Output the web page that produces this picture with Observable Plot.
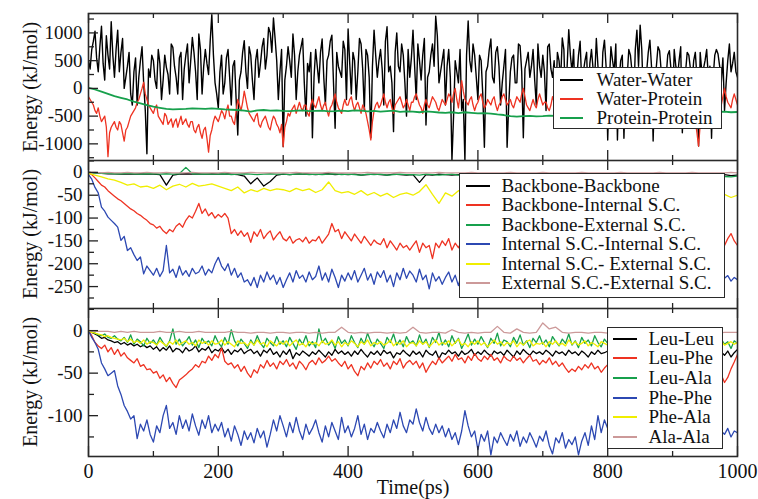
<!DOCTYPE html>
<html><head><meta charset="utf-8">
<script src="https://cdn.jsdelivr.net/npm/d3@7"></script>
<script src="https://cdn.jsdelivr.net/npm/@observablehq/plot@0.6"></script>
<style>
body{margin:0;background:#fff;}
#wrap{position:relative;width:758px;height:499px;overflow:hidden;background:#fff;}
#wrap svg{display:block;}
.legend{position:absolute;box-sizing:border-box;background:#fff;border:1.5px solid #2a2a2a;font-family:"Liberation Serif","Times New Roman",serif;font-size:19px;color:#111;}
.legend .sw{position:absolute;height:2px;}
.legend .tx{position:absolute;white-space:nowrap;}
.ytitle{position:absolute;white-space:nowrap;font-family:"Liberation Serif","Times New Roman",serif;font-size:20px;color:#111;transform:translate(-50%,-50%) rotate(-90deg);}
</style>
</head><body>
<div id="wrap"></div>
<script>
// ---------- time sampling ----------
const step5 = 5;
const step10 = 10;

// ---------- Panel 1 (kJ/mol) ----------
const panel1Names = ["Water-Water", "Water-Protein", "Protein-Protein"];
// Water-Water read at t = 0, 5, 10, ...
const waterWater = [
 500, 700, 1030, 300, 1120, 150, 600, 1200, 200, 1050,
 650, 0, 400, -100, 300, -300, 500, 100, -1180, 200,
 500, 0, 450, 150, 380, -100, 740, 200, 550, -200,
 600, 100, 920, 300, 980, -100, 700, 250, 1330, 100,
 -350, 600, 100, 700, -300, 500, -840, 300, 860, 0,
 600, -200, 700, 450, 900, 600, 1000, 1270, 500, 300,
 -1050, 400, 500, 980, -200, 600, 900, -500, 300, -890,
 700, 100, 890, -300, 600, 960, -720, 400, 200, 700,
 1070, -100, 500, 300, 800, -400, 600, -890, 1050, 200,
 700, -300, 1110, 400, -780, 1000, 300, 600, -500, 200,
 1050, -200, 500, 600, -660, 300, 800, 1300, 100, 500,
 -300, 700, -1300, 500, 100, -400, -1300, 1214, 300, 600,
 -200, 500, -1060, 400, 890, 100, 750, -300, 400, -1060,
 300, 600, 100, 770, -890, 500, 200, 700, -300, 400,
 600, -400, 800, 200, -200, 500, 910, -300, 1060, 300,
 -400, 600, 100, 500, -300, 700, 200, 400, -200, 870,
 -930, 750, 300, -930, 500, -900, 200, 600, -300, 1050,
 1140, -200, 300, 870, -950, 400, 680, -600, 200, 680,
 -300, 400, 500, -800, 300, 600, 100, 650, -1040, 300,
 500, 200, -900, 600, 620, 100, -400, 500, 300, 650,
 200];
// Water-Water read at t = 2.5, 7.5, 12.5, ...
const waterWaterHalf = [
 350, 850, 550, 750, 450, 950, 350, 600, 700, 300,
 900, 200, 650, -300, 550, 200, 750, -400, 350, 600,
 150, 700, -200, 600, 250, 800, 400, -100, 650, 350,
 800, 500, 650, -200, 700, 400, 450, 850, 600, -100,
 300, -100, 550, 200, 400, -200, 150, 650, 300, 750,
 150, 500, 200, 750, 350, 1100, 650, 900, -200, 700,
 150, 750, 200, 600, 300, 750, 100, 450, 650, 200,
 400, 650, 200, 500, 850, 100, 650, 300, 850, -200,
 450, 650, -200, 900, 350, 700, 200, 400, 600, 500,
 350, 850, 300, 100, 650, 400, 800, 100, 700, 550,
 400, 800, 150, 900, 200, 600, 400, 950, 300, 700,
 400, 200, -500, 300, 700, -200, 600, 500, 800, 200,
 600, -100, 300, 700, 200, 650, 400, 100, 700, -300,
 550, 100, 800, 300, 350, 650, 400, 150, 800, 200,
 300, 750, 350, 500, 650, 150, 700, 400, 600, 700,
 200, 850, 300, 650, 450, 350, 900, 100, 650, 400,
 100, 500, 800, 150, 600, 100, 700, 300, 700, 400,
 700, 300, 650, 400, 100, 750, 300, 200, 600, 350,
 700, 200, 750, 100, 650, 350, 500, 200, 650, 350,
 700, 400, 200, 700, 400, 550, 100, 800, 450, 300];
// Water-Protein read at t = 0, 5, 10, ...
const waterProtein = [
 -150, -250, -400, -350, -600, -500, -1230, -700, -600, -750,
 -650, -950, -700, -500, -400, -250, -100, 110, -200, -350,
 -450, -300, -550, -650, -500, -600, -700, -550, -600, -650,
 -550, -700, -600, -800, -650, -900, -700, -1150, -750, -500,
 -600, -400, -550, -300, -500, -650, -200, -400, -50, -350,
 -500, -600, -450, -700, -550, -600, -750, -500, -650, -800,
 -1050, -600, -500, -350, -450, -250, -400, -300, -500, -200,
 -350, -150, -400, -250, -500, -300, -100, -350, -450, -200,
 -300, -150, -400, -250, -450, -350, -600, -930, -400, -250,
 -300, -100, -350, -200, -450, -250, -150, -350, -200, -400,
 -250, -100, -300, -450, -200, -350, -150, -250, -400, -200,
 -300, -100, -250, 0, -350, 140, -200, -300, -150, -400,
 -250, -100, -350, -200, -300, -150, -400, -250, -100, -300,
 -200, -350, -150, -250, 0, -300, -400, -200, -350, -100,
 -300, -250, -400, -150, -350, -200, -300, -450, -250, -350,
 -200, -300, -400, -250, -350, -150, -300, -400, -250, -300,
 -350, -250, -400, -200, -300, -450, -250, -350, -200, -300,
 -400, -250, -350, -150, -300, -400, -250, -350, -300, -200,
 -350, -250, -400, -300, -450, -250, -350, -600, -1040, -300,
 -250, -400, -200, -350, -100, -300, 0, -250, -350, -100,
 -300];
// Water-Protein read at t = 2.5, 7.5, 12.5, ...
const waterProteinHalf = [
 -200, -300, -450, -500, -550, -700, -800, -650, -700, -600,
 -800, -750, -600, -450, -350, -200, 0, -100, -300, -400,
 -350, -500, -600, -450, -650, -550, -600, -700, -500, -600,
 -650, -600, -750, -700, -800, -750, -900, -850, -600, -550,
 -500, -450, -400, -500, -600, -400, -300, -250, -200, -450,
 -550, -500, -650, -600, -500, -700, -600, -550, -700, -650,
 -700, -450, -400, -300, -350, -350, -300, -450, -300, -300,
 -250, -300, -300, -400, -350, -200, -250, -400, -300, -300,
 -200, -300, -300, -350, -300, -450, -750, -600, -300, -350,
 -200, -250, -250, -350, -300, -200, -250, -300, -300, -250,
 -150, -200, -350, -300, -300, -250, -200, -350, -300, -250,
 -200, -150, -100, -200, -100, -50, -250, -200, -300, -300,
 -150, -250, -300, -250, -200, -300, -300, -150, -200, -250,
 -300, -250, -200, -100, -150, -350, -300, -300, -200, -200,
 -250, -350, -300, -250, -300, -250, -400, -350, -300, -250,
 -250, -350, -300, -300, -250, -250, -350, -300, -250, -350,
 -300, -350, -300, -250, -400, -300, -300, -250, -250, -350,
 -300, -300, -250, -250, -350, -300, -300, -350, -250, -250,
 -300, -350, -350, -400, -350, -300, -450, -800, -650, -250,
 -300, -300, -250, -200, -200, -150, -150, -300, -200, -200];
const proteinProtein = [
 10, -20, -60, -100, -140, -170, -200, -240, -270, -300,
 -330, -350, -370, -380, -375, -370, -360, -365, -370, -360,
 -370, -380, -385, -390, -400, -420, -395, -390, -400, -395,
 -405, -410, -400, -395, -410, -405, -400, -415, -410, -400,
 -410, -395, -400, -415, -405, -420, -410, -400, -425, -415,
 -420, -430, -415, -425, -435, -440, -430, -445, -430, -440,
 -450, -445, -455, -470, -480, -500, -510, -500, -495, -505,
 -500, -490, -495, -480, -470, -460, -455, -465, -450, -445,
 -440, -450, -445, -435, -440, -430, -445, -440, -435, -430,
 -435, -440, -430, -425, -430, -435, -430, -425, -420, -430,
 -425];

// ---------- Panel 2 ----------
const panel2Names = ["Backbone-Backbone", "Backbone-Internal S.C.", "Backbone-External S.C.",
  "Internal S.C.-Internal S.C.", "Internal S.C.- External S.C.", "External S.C.-External S.C."];
const bbBb = [
 0, -1, -2, -3, -3, -4, -3, -4, -3, -4,
 -4, -5, -28, -6, -4, -3, -4, -3, -4, -3,
 -4, -3, -4, -5, -8, -25, -12, -30, -20, -6,
 -4, -5, -4, -3, -4, -5, -4, -3, -5, -4,
 -5, -4, -6, -5, -4, -5, -6, -4, -5, -6,
 -5, -22, -5, -6, -4, -5, -6, -5, -4, -5,
 -5, -6, -5, -4, -6, -5, -5, -6, -4, -5,
 -6, -5, -5, -4, -6, -5, -6, -5, -5, -4,
 -5, -6, -5, -5, -6, -4, -5, -6, -5, -5,
 -6, -5, -4, -5, -6, -5, -5, -6, -5, -7,
 -6];
const bbInt = [
 0, -5, -12, -20, -28, -32, -40, -46, -52, -58,
 -62, -68, -74, -80, -84, -90, -94, -100, -105, -112,
 -115, -122, -118, -128, -134, -125, -130, -118, -112, -120,
 -105, -95, -100, -85, -68, -90, -80, -95, -88, -100,
 -92, -98, -90, -100, -134, -125, -138, -128, -140, -132,
 -153, -130, -140, -125, -145, -135, -128, -148, -138, -130,
 -145, -150, -140, -155, -148, -145, -152, -142, -155, -148,
 -150, -140, -155, -145, -135, -112, -130, -125, -145, -130,
 -140, -150, -135, -145, -155, -140, -150, -160, -148, -155,
 -158, -145, -165, -150, -160, -170, -155, -165, -160, -170,
 -160, -150, -175, -155, -165, -160, -189, -155, -165, -150,
 -160, -145, -170, -155, -165, -150, -160, -148, -158, -150,
 -155, -160, -150, -165, -158, -162, -150, -160, -155, -165,
 -158, -162, -150, -160, -165, -155, -160, -150, -158, -162,
 -155, -160, -165, -150, -158, -162, -155, -160, -150, -158,
 -162, -155, -160, -150, -158, -165, -155, -160, -162, -150,
 -158, -162, -155, -160, -150, -165, -158, -155, -162, -160,
 -155, -160, -150, -162, -158, -155, -165, -158, -160, -152,
 -160, -155, -162, -158, -150, -160, -155, -165, -158, -160,
 -162, -155, -160, -165, -158, -150, -160, -145, -134, -150,
 -160];
const bbExt = [
 0, -1, -2, -2, -3, -3, -2, -3, -4, -3,
 -3, -4, -3, -4, -3, 11, -3, -4, -3, -4,
 -4, -3, -5, -4, -3, -4, -5, -4, -3, -4,
 -4, -5, -4, -3, -5, -4, -5, -4, -3, -5,
 -4, -5, -6, -4, -5, -4, -6, -5, -4, -5,
 -5, -6, -4, -5, -6, -5, -4, -6, -5, -5,
 -6, -5, -5, -6, -4, -6, -5, -5, -6, -5,
 -5, -6, -5, -6, -5, -5, -6, -5, -6, -5,
 -6, -5, -6, -5, -7, -6, -5, -6, -5, -6,
 -6, -7, -6, -5, -7, -6, -8, -7, -9, -10,
 -8];
const intInt = [
 -5, -15, -33, -45, -76, -85, -98, -105, -112, -120,
 -149, -140, -171, -165, -180, -193, -185, -222, -205, -215,
 -225, -210, -228, -215, -160, -220, -212, -230, -205, -225,
 -215, -228, -210, -222, -218, -205, -225, -212, -220, -200,
 -186, -205, -215, -200, -225, -210, -230, -220, -240, -235,
 -248, -230, -252, -225, -240, -218, -235, -225, -245, -230,
 -252, -235, -220, -240, -215, -232, -225, -240, -218, -235,
 -228, -205, -236, -220, -240, -212, -230, -252, -225, -238,
 -220, -235, -215, -240, -225, -210, -236, -222, -245, -218,
 -230, -215, -240, -225, -250, -220, -235, -210, -232, -216,
 -225, -240, -212, -235, -225, -255, -220, -238, -228, -245,
 -230, -218, -240, -225, -248, -220, -235, -245, -228, -237,
 -240, -225, -250, -232, -245, -228, -240, -252, -235, -245,
 -230, -248, -238, -255, -240, -228, -250, -236, -245, -232,
 -245, -238, -252, -230, -246, -240, -235, -250, -238, -242,
 -236, -248, -230, -245, -240, -252, -235, -244, -230, -246,
 -238, -250, -235, -245, -232, -248, -240, -236, -252, -238,
 -245, -230, -248, -238, -244, -235, -250, -240, -232, -246,
 -238, -250, -235, -244, -230, -248, -236, -242, -250, -235,
 -240, -230, -245, -236, -228, -240, -232, -226, -238, -230,
 -235];
const intExt = [
 -2, -6, -10, -14, -17, -22, -28, -25, -32, -30,
 -35, -28, -38, -30, -26, -32, -24, -30, -28, -25,
 -30, -35, -40, -32, -45, -38, -42, -35, -40, -36,
 -38, -42, -35, -40, -36, -44, -38, -21, -40, -45,
 -42, -48, -40, -50, -44, -52, -46, -55, -48, -45,
 -50, -42, -27, -48, -68, -45, -52, -40, -48, -50,
 -46, -52, -48, -50, -45, -53, -49, -51, -47, -50,
 -52, -48, -50, -46, -53, -49, -51, -48, -52, -50,
 -49, -53, -47, -51, -50, -48, -52, -50, -47, -51,
 -50, -48, -52, -49, -51, -47, -50, -53, -48, -55,
 -50];
const extExt = [
 0, 0, -1, 0, -1, -1, 0, -1, -1, 0,
 -1, -1, 0, -1, -1, -1, 0, -1, -1, -1,
 -1, 0, -1, -1, -1, 0, -1, -1, -1, -1,
 -1, -1, 0, -1, -1, -1, -1, 0, -1, -1,
 -1, -1, -1, 0, -1, -1, -1, -1, 0, -1,
 -1, -1, -1, -1, 0, -1, -1, -1, -1, 0,
 -1, -1, -1, -1, -1, 0, -1, -1, -1, -1,
 0, -1, -1, -1, -1, -1, 0, -1, -1, -1,
 -1, -1, 0, -1, -1, -1, -1, -1, 0, -1,
 -1, -1, -1, 0, -1, -1, -1, -1, -1, 0,
 -1];

// ---------- Panel 3 ----------
const panel3Names = ["Leu-Leu", "Leu-Phe", "Leu-Ala", "Phe-Phe", "Phe-Ala", "Ala-Ala"];
const leuLeu = [
 0, -2, -4, -6, -9, -8, -11, -12, -14, -13,
 -16, -14, -17, -15, -18, -16, -19, -17, -20, -18,
 -22, -19, -24, -20, -23, -18, -25, -21, -22, -26,
 -20, -24, -22, -18, -25, -21, -23, -19, -26, -22,
 -24, -20, -26, -22, -28, -23, -25, -21, -27, -24,
 -22, -27, -24, -30, -23, -26, -21, -28, -25, -31,
 -24, -28, -22, -33, -26, -29, -24, -27, -30, -25,
 -28, -23, -27, -31, -25, -29, -22, -27, -24, -28,
 -25, -30, -24, -28, -22, -27, -31, -25, -28, -24,
 -29, -23, -27, -25, -32, -26, -28, -23, -27, -30,
 -24, -28, -25, -31, -23, -27, -29, -24, -33, -26,
 -28, -23, -27, -25, -30, -24, -28, -26, -22, -29,
 -25, -28, -23, -27, -30, -24, -27, -25, -29, -23,
 -27, -31, -24, -28, -22, -26, -29, -24, -27, -25,
 -28, -23, -26, -30, -24, -27, -25, -29, -23, -27,
 -25, -29, -24, -27, -31, -25, -28, -23, -27, -26,
 -24, -28, -25, -27, -23, -29, -26, -24, -28, -25,
 -27, -24, -29, -25, -28, -23, -27, -26, -24, -28,
 -25, -29, -24, -27, -26, -30, -24, -28, -25, -27,
 -24, -28, -26, -23, -27, -25, -29, -24, -31, -26,
 -22];
const leuPhe = [
 0, -6, -14, -18, -21, -17, -25, -20, -28, -22,
 -30, -26, -32, -35, -38, -33, -42, -40, -46, -45,
 -50, -48, -56, -52, -60, -55, -62, -67, -58, -55,
 -52, -48, -45, -40, -43, -36, -38, -30, -35, -28,
 -32, -20, -36, -40, -38, -44, -40, -48, -42, -50,
 -55, -46, -50, -40, -44, -35, -42, -38, -45, -36,
 -40, -34, -42, -38, -45, -36, -40, -46, -38, -35,
 -40, -32, -38, -35, -30, -36, -33, -38, -42, -36,
 -45, -40, -48, -53, -42, -46, -38, -44, -36, -40,
 -34, -42, -38, -45, -36, -40, -33, -44, -38, -35,
 -40, -36, -44, -38, -49, -42, -36, -40, -32, -38,
 -34, -30, -36, -28, -34, -32, -38, -30, -35, -27,
 -33, -36, -30, -34, -28, -35, -32, -38, -30, -34,
 -36, -30, -35, -32, -38, -33, -29, -36, -34, -40,
 -35, -38, -32, -40, -36, -42, -38, -44, -49, -45,
 -48, -42, -46, -40, -44, -38, -45, -42, -49, -44,
 -40, -44, -38, -42, -46, -40, -44, -38, -42, -45,
 -40, -44, -38, -43, -46, -40, -42, -38, -45, -41,
 -44, -40, -46, -42, -38, -44, -41, -45, -40, -43,
 -42, -46, -40, -44, -48, -52, -61, -55, -45, -37,
 -28];
const leuAla = [
 0, -1, -3, -5, -6, -4, -8, -9, -6, -10,
 -12, -8, -14, -5, -16, -10, -13, -18, -9, -15,
 -11, -17, -8, -14, -19, -12, 2, -16, -10, -18,
 -13, -7, -17, -11, -20, -9, -15, -12, -18, -6,
 -14, -19, -8, -16, 1, -12, -18, -10, -15, -21,
 -11, -17, -6, -15, -20, -9, -14, -18, -7, -16,
 -12, -19, -8, -15, -22, -10, -16, -6, -18, -13,
 -20, 2, -14, -9, -17, -12, -21, -7, -15, -11,
 -18, -6, -14, -20, -9, -16, -3, -13, -19, -10,
 -15, -21, -8, -14, -4, -17, -11, -19, -7, -15,
 -12, -18, -5, -16, -10, -20, -8, -14, -2, -17,
 -11, -19, -6, -15, -9, -21, -13, -4, -17, -10,
 -16, -7, -14, -20, -9, -15, -3, -18, -11, -13,
 -19, -8, -15, -5, -17, -12, -20, -9, -14, -6,
 -16, -11, -19, -7, -13, -18, -10, -15, -4, -17,
 -12, -20, -8, -15, -11, -18, -6, -14, -19, -10,
 -15, -8, -17, -12, -19, -9, -14, -18, -10, -16,
 -11, -18, -7, -15, -13, -20, -9, -16, -12, -17,
 -10, -16, -13, -19, -8, -15, -12, -18, -11, -14,
 -17, -9, -15, -12, -19, -10, -16, -13, -21, -12,
 -15];
const phePhe = [
 0, -8, -14, -22, -38, -45, -53, -50, -47, -65,
 -75, -88, -95, -104, -100, -127, -110, -118, -105, -122,
 -131, -112, -120, -100, -88, -115, -108, -122, -100, -115,
 -105, -118, -98, -112, -123, -105, -115, -100, -120, -110,
 -118, -108, -125, -115, -130, -112, -122, -135, -118, -128,
 -120, -132, -115, -126, -118, -137, -122, -105, -118, -100,
 -112, -125, -108, -120, -102, -118, -128, -110, -122, -115,
 -105, -120, -131, -112, -125, -108, -118, -128, -102, -120,
 -112, -125, -115, -100, -122, -110, -128, -115, -120, -108,
 -118, -126, -110, -120, -105, -115, -96, -112, -120, -105,
 -110, -92, -108, -118, -102, -115, -122, -110, -120, -112,
 -125, -115, -128, -120, -134, -118, -94, -112, -125, -118,
 -140, -122, -130, -118, -146, -125, -132, -120, -128, -135,
 -122, -130, -118, -136, -125, -132, -120, -128, -137, -124,
 -130, -118, -135, -145, -126, -132, -120, -138, -128, -134,
 -125, -146, -130, -120, -135, -112, -128, -100, -120, -105,
 -115, -125, -110, -122, -118, -128, -115, -124, -112, -120,
 -125, -118, -130, -115, -122, -128, -116, -124, -120, -126,
 -118, -124, -115, -128, -120, -112, -125, -118, -122, -116,
 -124, -115, -120, -112, -126, -118, -122, -115, -125, -118,
 -120];
const pheAla = [
 0, -2, -3, -4, -5, -7, -6, -8, -9, -10,
 -11, -9, -13, -10, -14, -12, -15, -11, -16, -13,
 -14, -17, -12, -15, -18, -13, -16, -11, -17, -14,
 -12, -16, -14, -18, -11, -15, -13, -17, -12, -16,
 -15, -11, -17, -13, -16, -19, -12, -15, -14, -18,
 -13, -17, -11, -16, -14, -19, -12, -15, -18, -13,
 -16, -12, -18, -14, -11, -17, -15, -19, -13, -16,
 -14, -18, -12, -16, -15, -11, -17, -13, -19, -14,
 -17, -12, -15, -19, -13, -16, -11, -18, -14, -16,
 -13, -17, -15, -11, -18, -14, -16, -12, -19, -15,
 -14, -18, -12, -16, -13, -19, -15, -11, -17, -14,
 -16, -12, -18, -14, -10, -17, -15, -19, -13, -16,
 -12, -17, -14, -19, -15, -11, -16, -13, -18, -14,
 -16, -12, -19, -14, -17, -13, -11, -18, -15, -16,
 -14, -19, -13, -16, -12, -17, -15, -18, -11, -16,
 -13, -17, -15, -12, -18, -14, -16, -19, -13, -15,
 -17, -13, -16, -14, -18, -12, -15, -17, -14, -16,
 -13, -18, -15, -12, -17, -14, -16, -13, -18, -15,
 -16, -12, -17, -15, -13, -18, -14, -16, -12, -17,
 -15, -13, -18, -14, -16, -12, -17, -15, -13, -16,
 -14];
const alaAla = [
 0, -1, -1, -1, -2, -1, -2, -1, -2, -2,
 -2, -1, -2, -2, -1, -2, -2, -1, -2, -2,
 -2, -2, -1, -2, -2, -3, -2, -2, -3, -2,
 -2, -3, -2, -2, -3, -2, -3, -2, -2, 4,
 -2, -3, -2, -3, -2, -2, -3, -2, -3, -2,
 4, -2, -3, -2, -2, -3, 1, -2, -3, -2,
 -3, -2, -2, 5, -2, -3, 2, -2, -3, -2,
 9, 2, 4, -2, -3, -2, -2, -3, -2, -2,
 -3, -2, 3, -2, -2, -3, -2, -2, -3, -2,
 -2, -3, -2, -2, -3, -2, -2, -3, -2, -2,
 -2];

// ---------- ticks & titles ----------
const xMajor = [0, 200, 400, 600, 800, 1000];
const xMinor = [100, 300, 500, 700, 900];
const y1Major = [-1000, -500, 0, 500, 1000];
const y1Minor = [-1250, -750, -250, 250, 750, 1250];
const y2Major = [-250, -200, -150, -100, -50, 0];
const y2Minor = [-275, -225, -175, -125, -75, -25, 25];
const y3Major = [-100, -50, 0];
const y3Minor = [-125, -75, -25, 25];
const yTitle = "Energy (kJ/mol)";
const xTitle = "Time(ps)";

// ---------- colours ----------
const C = {black: "#000000", red: "#ee3322", green: "#17a04c", blue: "#2c48b2", yellow: "#f0ee00", pink: "#cc9999"};

// ---------- build ----------
const W = 758, ML = 88, MR = 21;
const frameW = W - ML - MR;
const FONT = '"Liberation Serif", "Times New Roman", serif';
const rows = (vals, step, offset = 0) => vals.map((v, i) => ({t: i * step + offset, v}));
const merged = (a, b, step) => rows(a, step).concat(rows(b, step, step / 2)).sort((p, q) => p.t - q.t);

function panel({height, mt, mb, domain, yMajor, yMinor, series, bottomAxis}) {
  const fh = height - mt - mb;
  const marks = [];
  for (const s of series) {
    marks.push(Plot.line(s.data, {x: "t", y: "v", stroke: s.color, strokeWidth: s.w || 1.3, clip: true}));
  }
  marks.push(
    Plot.ruleX(xMajor, {x: d => d, insetBottom: fh - 10, stroke: "#222", strokeWidth: 1.3}),
    Plot.ruleX(xMajor, {x: d => d, insetTop: fh - 10, stroke: "#222", strokeWidth: 1.3}),
    Plot.ruleX(xMinor, {x: d => d, insetBottom: fh - 5, stroke: "#222", strokeWidth: 1.3}),
    Plot.ruleX(xMinor, {x: d => d, insetTop: fh - 5, stroke: "#222", strokeWidth: 1.3}),
    Plot.ruleY(yMajor, {y: d => d, insetRight: frameW - 10, stroke: "#222", strokeWidth: 1.3}),
    Plot.ruleY(yMinor, {y: d => d, insetRight: frameW - 6, stroke: "#222", strokeWidth: 1.3}),
    Plot.frame({stroke: "#2a2a2a", strokeWidth: 1.6}),
    Plot.axisY(yMajor, {tickSize: 0, tickPadding: 6, tickFormat: d => String(d), fontSize: 19, fontFamily: FONT, fill: "#111", label: null})
  );
  if (bottomAxis) {
    marks.push(
      Plot.axisX(xMajor, {anchor: "bottom", tickSize: 0, tickPadding: 7, tickFormat: d => String(d), fontSize: 20, fontFamily: FONT, fill: "#111", label: null}),
      Plot.text([xTitle], {text: d => d, frameAnchor: "bottom", dy: 23, lineAnchor: "top", fontSize: 20, fontFamily: FONT, fill: "#111"})
    );
  }
  return Plot.plot({
    width: W, height, marginLeft: ML, marginRight: MR, marginTop: mt, marginBottom: mb,
    x: {domain: [0, 1000], axis: bottomAxis ? undefined : null},
    y: {domain},
    style: {fontFamily: FONT, background: "transparent"},
    marks
  });
}

const wrap = document.getElementById("wrap");

const p1 = panel({height: 160, mt: 13, mb: 0, domain: [-1300, 1350], yMajor: y1Major, yMinor: y1Minor,
  series: [
    {data: merged(waterWater, waterWaterHalf, step5), color: C.black, w: 1.4},
    {data: merged(waterProtein, waterProteinHalf, step5), color: C.red, w: 1.3},
    {data: rows(proteinProtein, step10), color: C.green, w: 1.8}
  ]});
const p2 = panel({height: 148, mt: 0, mb: 0, domain: [-298, 26], yMajor: y2Major, yMinor: y2Minor,
  series: [
    {data: rows(bbBb, step10), color: C.black},
    {data: rows(bbInt, step5), color: C.red},
    {data: rows(bbExt, step10), color: C.green},
    {data: rows(intInt, step5), color: C.blue},
    {data: rows(intExt, step10), color: C.yellow},
    {data: rows(extExt, step10), color: C.pink}
  ]});
const p3 = panel({height: 191, mt: 0, mb: 43, domain: [-148, 26], yMajor: y3Major, yMinor: y3Minor, bottomAxis: true,
  series: [
    {data: rows(leuLeu, step5), color: C.black},
    {data: rows(leuPhe, step5), color: C.red},
    {data: rows(leuAla, step5), color: C.green},
    {data: rows(phePhe, step5), color: C.blue},
    {data: rows(pheAla, step5), color: C.yellow},
    {data: rows(alaAla, step10), color: C.pink}
  ]});
wrap.append(p1, p2, p3);

// y-axis titles, centred on each panel's frame
[86.5, 234, 382].forEach(cy => {
  const d = document.createElement("div");
  d.className = "ytitle";
  d.textContent = yTitle;
  d.style.left = "30px";
  d.style.top = cy + "px";
  wrap.append(d);
});

function legend(left, top, width, height, names, colors, firstCenter, rowH, swX, swW, txX) {
  const box = document.createElement("div");
  box.className = "legend";
  Object.assign(box.style, {left: left + "px", top: top + "px", width: width + "px", height: height + "px"});
  const b = 1.5;
  names.forEach((name, i) => {
    const cy = firstCenter + i * rowH - b;
    const sw = document.createElement("div");
    sw.className = "sw";
    Object.assign(sw.style, {left: (swX - b) + "px", top: (cy - 1) + "px", width: swW + "px", background: colors[i]});
    const tx = document.createElement("div");
    tx.className = "tx";
    tx.textContent = name;
    Object.assign(tx.style, {left: (txX - b) + "px", top: (cy - rowH / 2) + "px", lineHeight: rowH + "px", height: rowH + "px"});
    box.append(sw, tx);
  });
  wrap.append(box);
}
legend(553, 67, 169, 62, panel1Names, [C.black, C.red, C.green], 13, 19, 7, 23, 44);
legend(459, 173, 266, 125, panel2Names, [C.black, C.red, C.green, C.blue, C.yellow, C.pink], 13, 19.5, 7, 24, 43);
legend(607, 327, 116, 122, panel3Names, [C.black, C.red, C.green, C.blue, C.yellow, C.pink], 12, 19.7, 6, 24, 42);
</script>
</body></html>
